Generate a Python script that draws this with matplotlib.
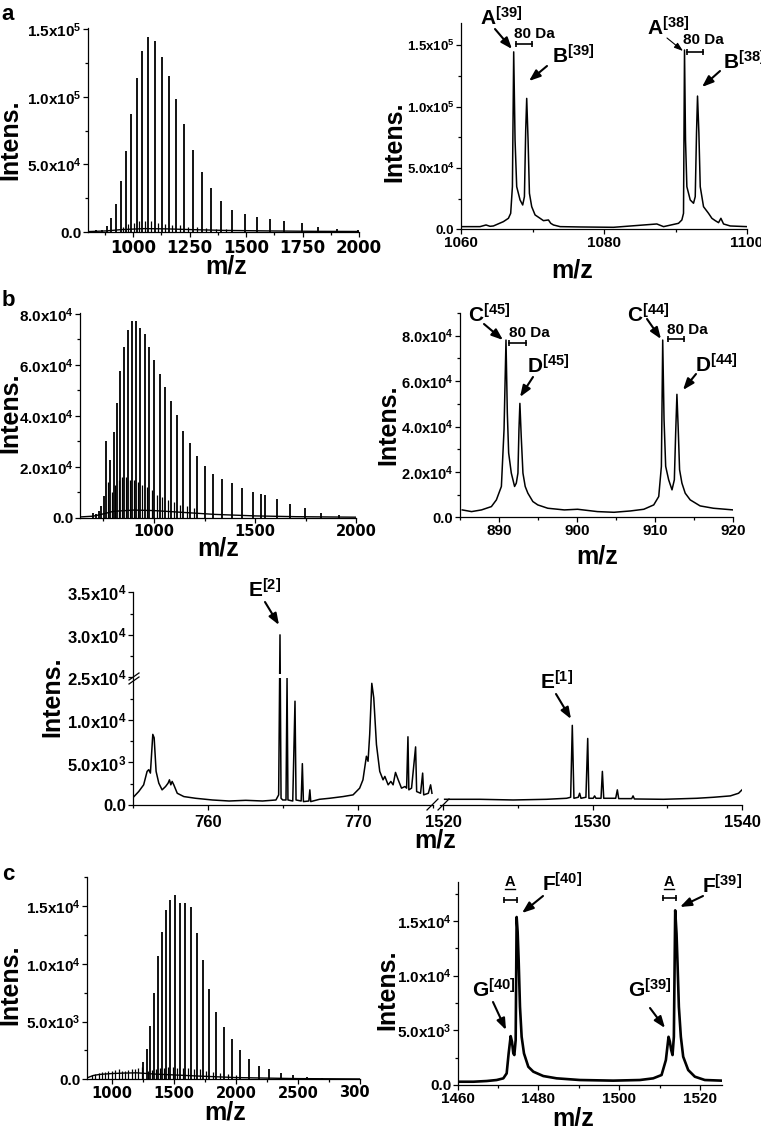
import numpy as np
import matplotlib
matplotlib.use("Agg")
import matplotlib.pyplot as plt
from matplotlib.ticker import MultipleLocator, FixedLocator, FuncFormatter, FixedFormatter
from matplotlib.patches import FancyArrowPatch
from matplotlib.lines import Line2D
from matplotlib.transforms import Bbox, TransformedBbox

W, H = 761, 1126

plt.rcParams.update({
    "font.family": ["Liberation Sans", "DejaVu Sans"],
    "font.weight": "bold",
    "mathtext.fontset": "custom",
    "mathtext.rm": "Liberation Sans:bold",
    "mathtext.it": "Liberation Sans:bold",
    "mathtext.bf": "Liberation Sans:bold",
    "mathtext.default": "bf",
    "axes.linewidth": 0.9,
    "xtick.labelsize": 11,
    "ytick.labelsize": 11,
})

# ---- panel a: full spectrum (stick peaks) ----
A_MZ = [837, 864, 882, 901, 922, 944, 967, 990, 1015, 1040, 1067, 1095, 1126, 1157,
        1189, 1225, 1263, 1303, 1345, 1390, 1439, 1493, 1547, 1606, 1670, 1747, 1818, 1902, 1994]
A_INT = [1.2e3, 1.7e3, 4.2e3, 1.0e4, 2.1e4, 3.74e4, 5.96e4, 8.72e4, 1.138e5, 1.342e5, 1.441e5,
         1.411e5, 1.293e5, 1.158e5, 9.85e4, 7.98e4, 6.08e4, 4.46e4, 3.25e4, 2.32e4, 1.65e4,
         1.33e4, 1.11e4, 9.9e3, 8.4e3, 6.6e3, 3.9e3, 2.5e3, 1.7e3]
A_SUB_MZ = [955, 979, 1002, 1027, 1053, 1080, 1110, 1140, 1172, 1206, 1243, 1283, 1323, 1366, 1413]
A_SUB_INT = [4e3, 6e3, 7e3, 8e3, 8.5e3, 8e3, 7e3, 6e3, 5.5e3, 5e3, 4e3, 3.5e3, 3e3, 2.5e3, 2e3]
A_BASE_MZ = [800, 880, 950, 1050, 1150, 1250, 1400, 1600, 1800, 2000]
A_BASE_INT = [300, 800, 1800, 2500, 2300, 1800, 1200, 800, 500, 400]

# ---- panel a: zoom 1060-1100 ----
AZ_MZ = [1060.00, 1062.66, 1063.50, 1064.06, 1064.53, 1065.93, 1066.63, 1066.95, 1067.19, 1067.37,
         1067.56, 1067.79, 1068.26, 1068.63, 1068.87, 1069.05, 1069.19, 1069.38, 1069.57, 1069.89,
         1070.36, 1071.06, 1071.53, 1072.23, 1072.55, 1072.93, 1073.86, 1076.66, 1081.33, 1087.39,
         1088.33, 1090.42, 1090.89, 1091.12, 1091.26, 1091.40, 1091.59, 1092.06, 1092.52, 1092.76,
         1092.94, 1093.08, 1093.27, 1093.46, 1093.92, 1094.62, 1095.09, 1095.56, 1096.02, 1096.35,
         1096.72, 1097.66, 1100.00]
AZ_INT = [2170, 2170, 3530, 2440, 2710, 6240, 8950, 13000, 34700, 144500,
          72700, 34700, 23900, 19800, 26600, 80800, 106600, 72700, 29300, 18400,
          11700, 8950, 7050, 7600, 4880, 3530, 2170, 1900, 1630, 4340,
          2170, 4880, 7600, 13000, 146000, 72700, 34700, 23900, 21200, 26600,
          78600, 108500, 78600, 34700, 18400, 13000, 8950, 7050, 5420, 8950,
          4340, 2710, 2170]

# ---- panel b: full spectrum ----
B_MZ = [699.5, 712.7, 727.6, 740.8, 755.7, 765.6, 785.4, 801.9, 816.6, 834.9, 851.4, 869.6, 889.4,
        909.2, 930.7, 953.8, 976.9, 1001.7, 1028.1, 1054.5, 1084.2, 1113.9, 1145.3, 1178.3, 1213,
        1251, 1292.2, 1336.8, 1383, 1434.2, 1487, 1530, 1546.5, 1605.9, 1673.6, 1746.3, 1825.5, 1913]
B_INT = [2.0e3, 1.6e3, 2.5e3, 4.6e3, 8.4e3, 3.0e4, 2.27e4, 3.36e4, 4.5e4, 5.77e4, 6.69e4, 7.37e4,
         7.74e4, 7.74e4, 7.46e4, 7.2e4, 6.7e4, 6.2e4, 5.66e4, 5.12e4, 4.57e4, 4.03e4, 3.39e4,
         2.92e4, 2.44e4, 2.05e4, 1.72e4, 1.52e4, 1.35e4, 1.17e4, 9.9e3, 9.5e3, 8.8e3, 7.4e3,
         5.5e3, 3.7e3, 2.0e3, 9.2e2]
B_SUB_MZ = [771, 793, 809, 826, 843, 861, 880, 900, 920, 942, 965, 990, 1015, 1041, 1069, 1098,
            1130, 1162, 1196]
B_SUB_INT = [1.4e4, 1.0e4, 1.3e4, 1.5e4, 1.6e4, 1.6e4, 1.5e4, 1.5e4, 1.4e4, 1.3e4, 1.2e4, 1.1e4,
             9e3, 8e3, 7e3, 6e3, 5e3, 4.5e3, 4e3]
B_BASE_MZ = [635, 700, 750, 800, 900, 1000, 1100, 1200, 1300, 1500, 1700, 2000]
B_BASE_INT = [300, 600, 1500, 2500, 3000, 2800, 2300, 1800, 1300, 700, 400, 200]

# ---- panel b: zoom 885-920 ----
BZ_MZ = [885.29, 886.48, 887.75, 889.02, 889.66, 890.30, 890.64, 890.89, 891.06, 891.23, 891.57,
         891.99, 892.21, 892.42, 892.55, 892.67, 892.84, 893.06, 893.35, 893.69, 894.33, 894.96,
         896.24, 898.36, 900.06, 902.60, 904.72, 906.84, 908.54, 909.81, 910.45, 910.79, 910.96,
         911.13, 911.34, 911.72, 912.15, 912.45, 912.62, 912.78, 912.95, 913.12, 913.42, 913.84,
         914.48, 915.75, 917.45, 920.00]
BZ_INT = [3250, 2510, 3250, 4720, 7680, 13580, 38670, 78080, 46050, 28340, 19480,
          13580, 15060, 19480, 38670, 50180, 35720, 19480, 13580, 10630, 6940, 5460,
          3990, 3250, 3540, 2510, 2210, 2800, 3540, 5460, 9150, 22440, 78080,
          43100, 22440, 16530, 12100, 16530, 37200, 54170, 38670, 20960, 15060, 10630,
          7680, 5020, 3990, 3250]

# ---- panel b: broken-axis zoom (E peaks) ----
E1_MZ = [755.0, 755.38, 755.71, 755.94, 756.05, 756.16, 756.32, 756.41, 756.54, 756.72, 756.94,
         757.17, 757.34, 757.43, 757.52, 757.61, 757.72, 757.95, 758.39, 759.17, 760.29, 761.41,
         762.52, 763.64, 764.53, 764.71, 764.80, 764.87, 764.98, 765.20, 765.27, 765.33, 765.65,
         765.80, 765.87, 766.21, 766.29, 766.36, 766.72, 766.79, 766.85, 767.43, 768.10, 769.00,
         769.67, 770.11, 770.33, 770.56, 770.67, 770.78, 770.92, 771.05, 771.23, 771.45, 771.67,
         771.79, 772.01, 772.19, 772.34, 772.50, 772.68, 772.90, 773.13, 773.24, 773.33, 773.39,
         773.57, 773.84, 773.91, 774.17, 774.31, 774.38, 774.69, 774.84, 774.93]
E1_INT = [870, 1580, 2370, 3950, 4150, 3750, 8300, 7900, 3950, 2570, 1780,
          2170, 2570, 2960, 2370, 2770, 2370, 1380, 990, 790, 590, 470,
          550, 470, 590, 1190, 30000, 790, 590, 590, 14900, 590, 470,
          12200, 590, 470, 4860, 400, 470, 1780, 400, 670, 790, 990,
          1190, 1980, 2960, 5730, 5140, 8300, 14300, 12600, 7110, 3950, 2960,
          3360, 2370, 2770, 2370, 3830, 2960, 1980, 2170, 1980, 8020, 1780,
          1980, 6830, 1580, 1380, 3750, 1190, 1380, 2370, 1380]
E2_MZ = [1520.11, 1522.46, 1524.69, 1526.92, 1528.26, 1528.53, 1528.64, 1528.75, 1529.04, 1529.13,
         1529.22, 1529.55, 1529.67, 1529.75, 1530.04, 1530.13, 1530.22, 1530.56, 1530.65, 1530.74,
         1531.54, 1531.65, 1531.74, 1532.61, 1532.70, 1532.79, 1534.73, 1536.96, 1538.08, 1539.20,
         1539.75, 1539.98]
E2_INT = [670, 670, 590, 670, 790, 910, 9360, 790, 910, 1380,
          790, 910, 7820, 790, 790, 1070, 790, 790, 3950, 790,
          790, 1780, 750, 750, 1070, 710, 670, 790, 910, 1070,
          1380, 1780]

# ---- panel c: full spectrum ----
C_MZ = [1254.6, 1281.5, 1308.3, 1340.5, 1370, 1404.9, 1437.1, 1472, 1509.6, 1547.2, 1592.7, 1638.4,
        1684, 1735, 1786, 1839.6, 1901.4, 1965.8, 2035.5, 2105.3, 2185.8, 2268.9, 2360.2, 2456.8,
        2569.5, 2690.3]
C_INT = [1.47e3, 2.6e3, 4.6e3, 7.5e3, 1.07e4, 1.28e4, 1.47e4, 1.55e4, 1.6e4, 1.53e4, 1.53e4,
         1.49e4, 1.27e4, 1.03e4, 7.8e3, 5.8e3, 4.5e3, 3.5e3, 2.5e3, 1.76e3, 1.18e3, 870, 580,
         375, 170, 90]
C_LOW_MZ = [840, 866, 893, 920, 946, 972, 1000, 1027, 1054, 1080, 1107, 1134, 1160, 1187, 1214, 1240]
C_LOW_INT = [380, 450, 540, 600, 620, 680, 720, 800, 880, 720, 740, 820, 860, 900, 950, 1100]
C_SUB_MZ = [1295, 1325, 1355, 1388, 1421, 1455, 1490, 1528, 1570, 1615, 1661, 1710, 1760, 1812,
            1870, 1933, 2000]
C_SUB_INT = [700, 800, 900, 950, 1000, 1050, 1050, 1000, 1000, 950, 900, 850, 750, 650, 550, 450, 350]
C_BASE_MZ = [800, 850, 900, 1000, 1100, 1200, 1260, 1350, 1500, 1700, 2000, 2500, 3000]
C_BASE_INT = [120, 330, 420, 500, 540, 560, 520, 450, 380, 280, 150, 60, 30]

# ---- panel c: zoom 1460-1525 ----
CZ_MZ = [1460.17, 1463.88, 1467.18, 1469.65, 1471.30, 1472.13, 1472.62, 1473.12, 1473.45, 1473.78,
         1474.03, 1474.36, 1474.60, 1474.85, 1475.10, 1475.43, 1475.84, 1476.42, 1477.49, 1478.73,
         1481.20, 1484.50, 1490.28, 1498.53, 1505.13, 1508.43, 1510.50, 1511.57, 1512.23, 1512.56,
         1512.89, 1513.22, 1513.55, 1513.88, 1514.21, 1514.46, 1514.79, 1515.28, 1515.86, 1517.10,
         1518.75, 1521.22, 1525.35]
CZ_INT = [300, 300, 365, 456, 609, 1065, 2890, 4470, 3960, 2890,
          2740, 4110, 15370, 14000, 11410, 7150, 4410, 2890, 1670, 1220,
          820, 610, 456, 400, 456, 609, 913, 2280, 4410, 3960,
          3200, 2740, 4410, 15980, 13850, 11110, 7150, 4410, 2590, 1370,
          760, 456, 400]

BREAK_LO, BREAK_HI = 1.5e4, 2.5e4


def box(x0, x1, y0, y1):
    return [x0 / W, 1 - y1 / H, (x1 - x0) / W, (y1 - y0) / H]


def sci(v, pos=None):
    if abs(v) < 1e-6:
        return "0.0"
    if v < 0:
        return ""
    e = int(np.floor(np.log10(v) + 1e-9))
    return f"${v / 10 ** e:.1f}x10^{{{e}}}$"


def setup(ax, xlim, ylim, xmaj, xmin, ymaj=None, ymin=None, xls=11, yls=11, xfam=None):
    ax.set_xlim(*xlim)
    ax.set_ylim(*ylim)
    ax.set_facecolor("none")
    for s in ("top", "right"):
        ax.spines[s].set_visible(False)
    ax.xaxis.set_major_locator(MultipleLocator(xmaj))
    ax.xaxis.set_minor_locator(MultipleLocator(xmin))
    if ymaj:
        ax.yaxis.set_major_locator(MultipleLocator(ymaj))
        ax.yaxis.set_minor_locator(MultipleLocator(ymin))
        ax.yaxis.set_major_formatter(FuncFormatter(sci))
    ax.tick_params(which="major", direction="out", length=3.5, width=0.9, pad=1.2)
    ax.tick_params(which="minor", direction="out", length=2.2, width=0.9)
    ax.tick_params(axis="x", labelsize=xls)
    ax.tick_params(axis="y", labelsize=yls)
    if xfam:
        ax.tick_params(axis="x", labelfontfamily=xfam)


fig = plt.figure(figsize=(W / 100, H / 100), dpi=100)


def label(px, py, s, size, ha="left", va="baseline", **kw):
    return fig.text(px / W, 1 - py / H, s, fontsize=size, ha=ha, va=va, fontweight="bold", **kw)


def arrow(x0, y0, x1, y1, lw=1.5, hl=0.45, hw=0.17):
    fig.add_artist(FancyArrowPatch((x0 / W, 1 - y0 / H), (x1 / W, 1 - y1 / H),
                                   transform=fig.transFigure, color="k", lw=lw,
                                   arrowstyle=f"-|>,head_length={hl},head_width={hw}",
                                   mutation_scale=15, shrinkA=0, shrinkB=0))


def seg(x0, y0, x1, y1, lw=1.0, **kw):
    fig.add_artist(Line2D([x0 / W, x1 / W], [1 - y0 / H, 1 - y1 / H], transform=fig.transFigure,
                          color="k", lw=lw, **kw))


def bar(x0, x1, y):
    seg(x0, y, x1, y, lw=1.2, marker="|", ms=5, mew=1.2)


def axis_labels(ix, iy, mx, my):
    label(ix, iy, "Intens.", 18, ha="center", va="center", rotation=90)
    label(mx, my, "m/z", 18, ha="center", va="center")


# ---------------- a ----------------
ax = fig.add_axes(box(88, 359, 28, 232))
ax.plot(A_BASE_MZ, A_BASE_INT, color="k", lw=1.0)
ax.vlines(A_SUB_MZ, 0, A_SUB_INT, color="k", lw=0.9)
ax.vlines(A_MZ, 0, A_INT, color="k", lw=1.3)
setup(ax, (800, 2000), (0, 1.51e5), 250, 125, 5e4, 2.5e4, xls=12, xfam="DejaVu Sans")
axis_labels(10, 140, 226, 267)

ax = fig.add_axes(box(461, 747, 23, 229.3))
ax.plot(AZ_MZ, AZ_INT, color="k", lw=1.1)
setup(ax, (1060, 1100), (0, 1.68e5), 20, 10, 5e4, 2.5e4, xls=11, yls=9.5)
axis_labels(394, 142, 572, 271)

label(480, 25, "$A^{[39]}$", 15)
arrow(495, 29, 512, 49)
label(534, 34, "80 Da", 11, ha="center", va="center")
bar(516, 532, 44)
label(552, 63, "$B^{[39]}$", 15)
arrow(547, 66, 529, 81)
label(647, 35, "$A^{[38]}$", 15)
arrow(667, 38, 683, 51, lw=0.8, hl=0.35, hw=0.12)
label(703, 40, "80 Da", 11, ha="center", va="center")
bar(687, 703, 52)
label(723, 70, "$B^{[38]}$", 15)
arrow(720, 71, 702, 87)

# ---------------- b ----------------
ax = fig.add_axes(box(80, 356.5, 313, 517.7))
ax.plot(B_BASE_MZ, B_BASE_INT, color="k", lw=1.0)
ax.vlines(B_SUB_MZ, 0, B_SUB_INT, color="k", lw=0.9)
ax.vlines(B_MZ, 0, B_INT, color="k", lw=1.3)
setup(ax, (635, 2000), (0, 8.04e4), 500, 250, 2e4, 1e4, xls=10.5, xfam="DejaVu Sans")
axis_labels(10, 413, 218, 548)

ax = fig.add_axes(box(460, 733.3, 313, 517.3))
ax.plot(BZ_MZ, BZ_INT, color="k", lw=1.1)
setup(ax, (885, 920), (0, 9.0e4), 10, 5, 2e4, 1e4, xls=11, yls=10.5)
axis_labels(388, 425, 597, 557)

label(468, 322, "$C^{[45]}$", 15)
arrow(484, 324, 503, 340)
label(529, 333, "80 Da", 11, ha="center", va="center")
bar(509, 526, 343)
label(527, 373, "$D^{[45]}$", 15)
arrow(533, 377, 520, 397)
label(627, 322, "$C^{[44]}$", 15)
arrow(647, 319, 661, 339)
label(687, 330, "80 Da", 11, ha="center", va="center")
bar(668, 684, 339)
label(695, 372, "$D^{[44]}$", 15)
arrow(696, 374, 683, 390)


# broken-axis zoom of panel b
def brk(y):
    y = np.asarray(y, dtype=float)
    return np.where(y > BREAK_LO, y - (BREAK_HI - BREAK_LO), y)


ax = fig.add_axes(box(133, 433, 592.3, 805))
ax.plot(E1_MZ, brk(E1_INT), color="k", lw=1.1)
setup(ax, (755, 775), (0, 2.5e4), 10, 5, xls=12, yls=12)
ticks = [0, 5e3, 1e4, 1.5e4, 2e4, 2.5e4]
ax.yaxis.set_major_locator(FixedLocator(ticks))
ax.yaxis.set_major_formatter(FixedFormatter(
    [sci(t if t < BREAK_LO else t + BREAK_HI - BREAK_LO) for t in ticks]))
ax.yaxis.set_minor_locator(FixedLocator([2.5e3, 7.5e3, 1.25e4, 1.75e4, 2.25e4]))
ax.tick_params(axis="x", pad=4)
ax.axhspan(1.495e4, 1.54e4, color="white", lw=0, zorder=2.2)

ax2 = fig.add_axes(box(440, 742.3, 592.3, 805))
ax2.plot(E2_MZ, brk(E2_INT), color="k", lw=1.1)
setup(ax2, (1519.8, 1540), (0, 2.5e4), 10, 5, xls=12)
ax2.tick_params(axis="x", pad=4)
ax2.spines["left"].set_visible(False)
ax2.tick_params(axis="y", which="both", left=False, labelleft=False)

axis_labels(52, 697, 435, 841)
seg(129, 680, 139, 673, lw=0.9)
seg(129, 684, 139, 677, lw=0.9)
seg(427, 810, 438, 799, lw=0.9)
seg(438, 810, 449, 799, lw=0.9)

label(248, 598, "$E^{[2]}$", 15)
arrow(265, 602, 279, 625)
label(540, 690, "$E^{[1]}$", 15)
arrow(556, 694, 571, 719)

# ---------------- c ----------------
ax = fig.add_axes(box(87, 360, 877.3, 1079.3))
ax.plot(C_BASE_MZ, C_BASE_INT, color="k", lw=1.0)
ax.vlines(C_LOW_MZ, 0, C_LOW_INT, color="k", lw=0.9)
ax.vlines(C_SUB_MZ, 0, C_SUB_INT, color="k", lw=0.9)
ax.vlines(C_MZ, 0, C_INT, color="k", lw=1.3)
setup(ax, (800, 3000), (0, 1.75e4), 500, 250, 5e3, 2.5e3, xls=10.5, xfam="DejaVu Sans")
ax.xaxis.set_major_formatter(FuncFormatter(lambda v, p: "" if v > 2900 else f"{v:.0f}"))
t = fig.text(360 / W, 1 - 1085 / H, "3000", fontsize=10.5, fontweight="bold", ha="center",
             va="top", family="DejaVu Sans")
t.set_clip_box(TransformedBbox(Bbox.from_extents(0, 0, 369 / W, 1), fig.transFigure))
t.set_clip_on(True)
axis_labels(10, 985, 225, 1113)

ax = fig.add_axes(box(457.7, 721.7, 881.7, 1085))
ax.plot(CZ_MZ, CZ_INT, color="k", lw=1.9)
setup(ax, (1460, 1525.4), (0, 1.86e4), 20, 10, 5e3, 2.5e3, xls=11, yls=11)
axis_labels(387, 990, 573, 1118)

for ax_x, bar_y in ((510, 900), (669, 898)):
    label(ax_x, 882, "A", 10.5, ha="center", va="center")
    seg(ax_x - 5, 889, ax_x + 5, 889, lw=1.0)
    bar(ax_x - 6, ax_x + 7, bar_y)
label(542, 892, "$F^{[40]}$", 15)
arrow(543, 896, 522, 913)
label(472, 997, "$G^{[40]}$", 15)
arrow(493, 1002, 506, 1030)
label(702, 893, "$F^{[39]}$", 15)
arrow(703, 896, 680, 907)
label(628, 998, "$G^{[39]}$", 15)
arrow(650, 1008, 665, 1028)

label(8, 14, "a", 16, ha="center", va="center")
label(8, 301, "b", 16, ha="center", va="center")
label(8, 875, "c", 16, ha="center", va="center")

fig.savefig("out.png", dpi=100)
